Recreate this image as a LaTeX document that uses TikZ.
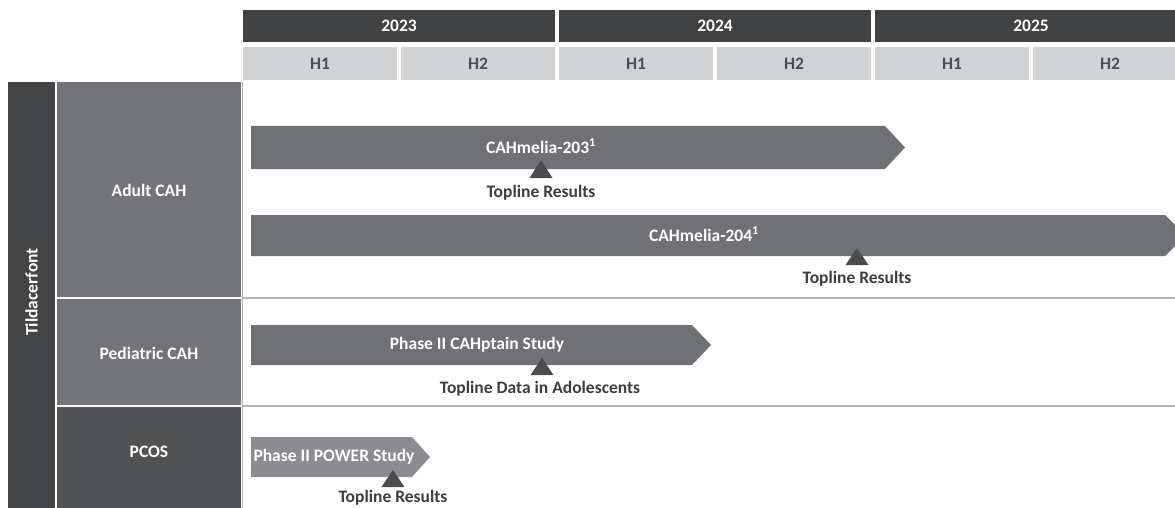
\documentclass[tikz,border=0pt]{standalone}
\usepackage{fontspec}
\setmainfont{Carlito}
\definecolor{yeardark}{HTML}{414244}
\definecolor{halflight}{HTML}{D2D3D5}
\definecolor{halftext}{HTML}{4D4E50}
\definecolor{drugdark}{HTML}{434446}
\definecolor{catmid}{HTML}{737478}
\definecolor{catdark}{HTML}{505153}
\definecolor{barmid}{HTML}{707175}
\definecolor{barlight}{HTML}{8C8D90}
\definecolor{markdark}{HTML}{4B4C4E}
\definecolor{notetext}{HTML}{3D3D3D}
\definecolor{gridline}{HTML}{B4B4B4}
\tikzset{
  labelfont/.style={font=\fontsize{17.5}{20}\selectfont\bfseries},
  headtext/.style={labelfont, text=white},
  halftextstyle/.style={labelfont, text=halftext},
  bartext/.style={labelfont, text=white},
  notestyle/.style={labelfont, text=notetext},
  sepline/.style={gridline, line width=1.2pt},
}
\begin{document}
\begin{tikzpicture}[x=1pt, y=-1pt]
    \useasboundingbox (0,0) rectangle (1175,508);
    \clip (0,0) rectangle (1175,508);

    % Year header
    \fill[yeardark] (243,10) rectangle (555,42);
    \node[headtext] (y2023) at (399,26) {2023};
    \fill[yeardark] (559,10) rectangle (871,42);
    \node[headtext] (y2024) at (715,26) {2024};
    \fill[yeardark] (875,10) rectangle (1187,42);
    \node[headtext] (y2025) at (1031,26) {2025};

    % Half-year header
    \fill[halflight] (243,47) rectangle (397,80);
    \node[halftextstyle] (h23a) at (320,63.5) {H1};
    \fill[halflight] (401,47) rectangle (555,80);
    \node[halftextstyle] (h23b) at (478,63.5) {H2};
    \fill[halflight] (559,47) rectangle (713,80);
    \node[halftextstyle] (h24a) at (636,63.5) {H1};
    \fill[halflight] (717,47) rectangle (871,80);
    \node[halftextstyle] (h24b) at (794,63.5) {H2};
    \fill[halflight] (875,47) rectangle (1029,80);
    \node[halftextstyle] (h25a) at (952,63.5) {H1};
    \fill[halflight] (1033,47) rectangle (1187,80);
    \node[halftextstyle] (h25b) at (1110,63.5) {H2};

    % Drug column
    \fill[drugdark] (8,82) rectangle (55,508);
    \node[headtext, rotate=90] (drug) at (31.5,292) {Tildacerfont};

    % Indication column
    \fill[catmid] (57,82) rectangle (241,297);
    \node[headtext] (adult) at (149,190) {Adult CAH};
    \fill[catmid] (57,299) rectangle (241,405);
    \node[headtext] (pediatric) at (149,353) {Pediatric CAH};
    \fill[catdark] (57,407) rectangle (241,508);
    \node[headtext] (pcos) at (149,452) {PCOS};

    % Grid lines
    \draw[sepline] (242.5,82) -- (242.5,508);
    \draw[sepline] (242,298) -- (1175,298);
    \draw[sepline] (242,406) -- (1175,406);

    % CAHmelia-203
    \fill[barmid] (251,126) -- (885,126) -- (905,147.5) -- (885,169) -- (251,169) -- cycle;
    \node[bartext] (cah203) at (541,146) {CAHmelia-203\textsuperscript{1}};
    \fill[markdark] (541,160) -- (552.5,178) -- (529.5,178) -- cycle;
    \node[notestyle] (top203) at (541,193) {Topline Results};

    % CAHmelia-204
    \fill[barmid] (251,215) -- (1165,215) -- (1186,235.5) -- (1165,256) -- (251,256) -- cycle;
    \node[bartext] (cah204) at (704,234) {CAHmelia-204\textsuperscript{1}};
    \fill[markdark] (857,248) -- (868.5,265) -- (845.5,265) -- cycle;
    \node[notestyle] (top204) at (857,279) {Topline Results};

    % CAHptain
    \fill[barmid] (251,325) -- (692,325) -- (711,345) -- (692,365) -- (251,365) -- cycle;
    \node[bartext] (cahptain) at (477,345) {Phase II CAHptain Study};
    \fill[markdark] (542,358) -- (553.5,375) -- (530.5,375) -- cycle;
    \node[notestyle] (topptain) at (540,389) {Topline Data in Adolescents};

    % POWER
    \fill[barlight] (251,437) -- (412,437) -- (430,457) -- (412,477) -- (251,477) -- cycle;
    \node[bartext] (power) at (334,457) {Phase II POWER Study};
    \fill[markdark] (393,470) -- (404.5,487) -- (381.5,487) -- cycle;
    \node[notestyle] (toppower) at (393,498) {Topline Results};
\end{tikzpicture}
\end{document}
